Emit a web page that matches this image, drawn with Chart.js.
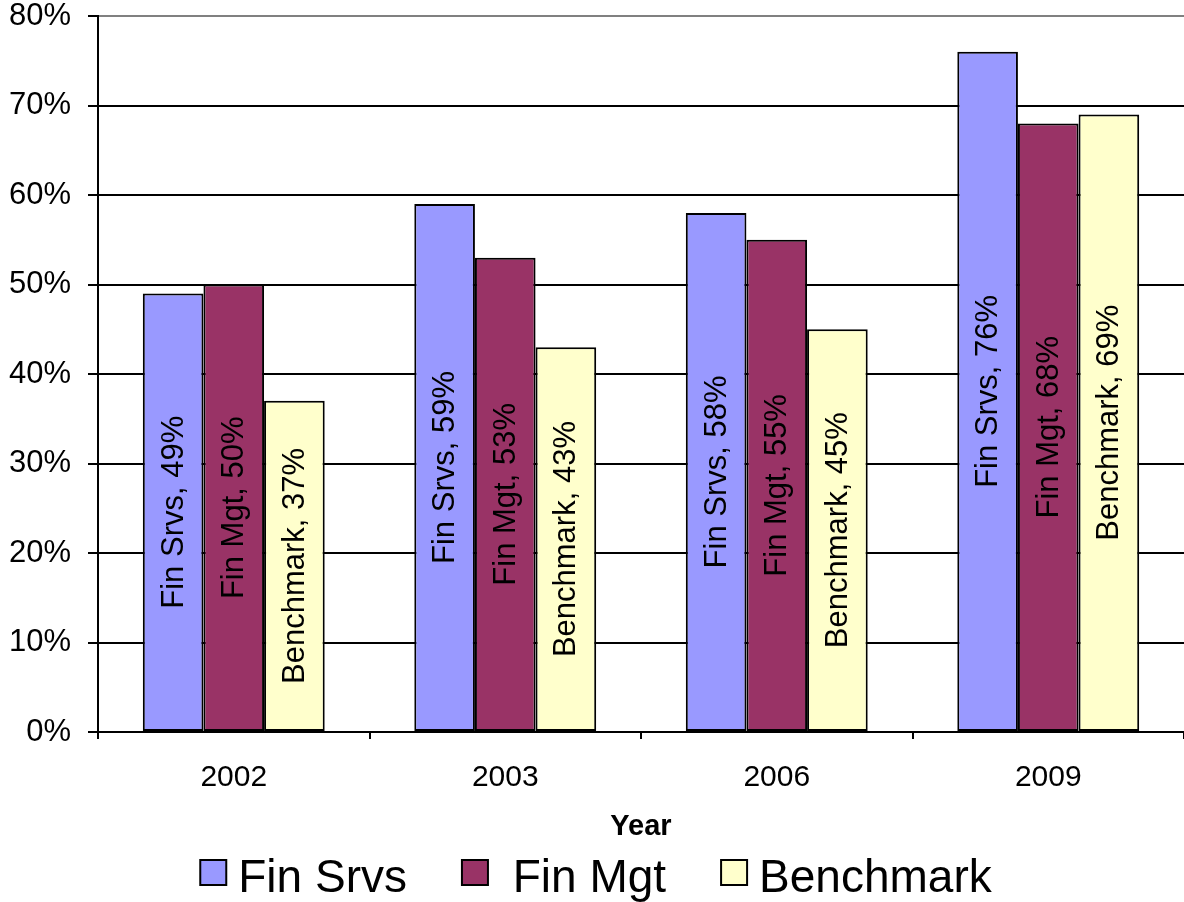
<!DOCTYPE html>
<html>
<head>
<meta charset="utf-8">
<title>Fin Srvs / Fin Mgt / Benchmark by Year</title>
<script src="https://cdn.jsdelivr.net/npm/chart.js@4/dist/chart.umd.min.js"></script>
<style>
  html, body { margin: 0; padding: 0; background: #ffffff; }
  #wrap { position: relative; width: 1184px; height: 902px; }
</style>
</head>
<body>
<div id="wrap"><canvas id="chart" width="1184" height="902"></canvas></div>
<script>
// Survey results by year (percent)
const years = ['2002', '2003', '2006', '2009'];
const finSrvs = [49, 59, 58, 76];
const finMgt = [50, 53, 55, 68];
const benchmark = [37, 43, 45, 69];
const seriesNames = ['Fin Srvs', 'Fin Mgt', 'Benchmark'];
const seriesColors = ['#9999FF', '#993366', '#FFFFCC'];
const yTicks = [0, 10, 20, 30, 40, 50, 60, 70, 80];

const FONT = '"Liberation Sans", Arial, Helvetica, sans-serif';

// Rotated "Series, value%" labels centred inside each bar
const barLabels = {
  id: 'barLabels',
  afterDatasetsDraw(chart) {
    const ctx = chart.ctx;
    ctx.save();
    ctx.font = '31px ' + FONT;
    ctx.fillStyle = '#000000';
    ctx.textAlign = 'center';
    ctx.textBaseline = 'middle';
    chart.data.datasets.forEach((ds, di) => {
      const meta = chart.getDatasetMeta(di);
      meta.data.forEach((bar, i) => {
        const cy = (bar.y + bar.base) / 2;
        ctx.save();
        ctx.translate(bar.x, cy);
        ctx.rotate(-Math.PI / 2);
        ctx.fillText(ds.label + ', ' + ds.data[i] + '%', 0, 1);
        ctx.restore();
      });
    });
    ctx.restore();
  }
};

// Legend row along the bottom edge
const bottomLegend = {
  id: 'bottomLegend',
  afterDraw(chart) {
    const ctx = chart.ctx;
    const box = 26, gap = 12, itemGap = 55;
    ctx.save();
    ctx.font = '46px ' + FONT;
    const items = chart.data.datasets.map((ds, i) => ({
      text: (i === 1 ? ' ' : '') + ds.label,
      color: ds.backgroundColor
    }));
    let total = 0;
    items.forEach((it, i) => {
      it.w = ctx.measureText(it.text).width;
      total += box + gap + it.w + (i < items.length - 1 ? itemGap : 0);
    });
    let x = chart.width / 2 - total / 2 + 4;
    const baseline = chart.height - 10;
    items.forEach(it => {
      ctx.fillStyle = it.color;
      ctx.fillRect(x, baseline - 32, box, box - 1);
      ctx.lineWidth = 2;
      ctx.strokeStyle = '#000000';
      ctx.strokeRect(x, baseline - 32, box, box - 1);
      ctx.fillStyle = '#000000';
      ctx.textAlign = 'left';
      ctx.textBaseline = 'alphabetic';
      ctx.fillText(it.text, x + box + gap, baseline);
      x += box + gap + it.w + itemGap;
    });
    ctx.restore();
  }
};

const datasets = [finSrvs, finMgt, benchmark].map((vals, i) => ({
  label: seriesNames[i],
  data: vals,
  backgroundColor: seriesColors[i],
  borderColor: '#000000',
  borderWidth: 2,
  borderSkipped: false,
  categoryPercentage: 0.67,
  barPercentage: 1.0
}));

new Chart(document.getElementById('chart'), {
  type: 'bar',
  data: { labels: years, datasets: datasets },
  plugins: [barLabels, bottomLegend],
  options: {
    responsive: false,
    animation: false,
    devicePixelRatio: 1,
    layout: { padding: { top: 0, right: 0, bottom: 0, left: 0 } },
    plugins: {
      legend: { display: false },
      tooltip: { enabled: false }
    },
    scales: {
      x: {
        grid: {
          display: true,
          drawOnChartArea: false,
          drawTicks: true,
          tickLength: 7,
          color: '#000000',
          lineWidth: 2
        },
        border: { display: true, color: '#000000', width: 2 },
        ticks: {
          color: '#000000',
          font: { family: FONT, size: 30 },
          padding: 21
        },
        title: {
          display: true,
          text: 'Year',
          color: '#000000',
          font: { family: FONT, size: 29, weight: 'bold' },
          padding: { top: 0, bottom: 58 }
        },
        afterFit(scale) { scale.height = 170; }
      },
      y: {
        min: 0,
        max: 80,
        afterBuildTicks(scale) { scale.ticks = yTicks.map(v => ({ value: v })); },
        grid: {
          color: ctx => (ctx.tick && ctx.tick.value === 80 ? '#808080' : '#000000'),
          lineWidth: 2,
          tickLength: 10,
          tickColor: '#000000'
        },
        border: { display: true, color: '#000000', width: 2 },
        ticks: {
          color: '#000000',
          font: { family: FONT, size: 31 },
          padding: 17,
          callback: v => v + '%'
        },
        afterFit(scale) {
          scale.width = 98;
          scale.paddingTop = 16;
          scale.paddingBottom = 0;
        }
      }
    }
  }
});
</script>
</body>
</html>
